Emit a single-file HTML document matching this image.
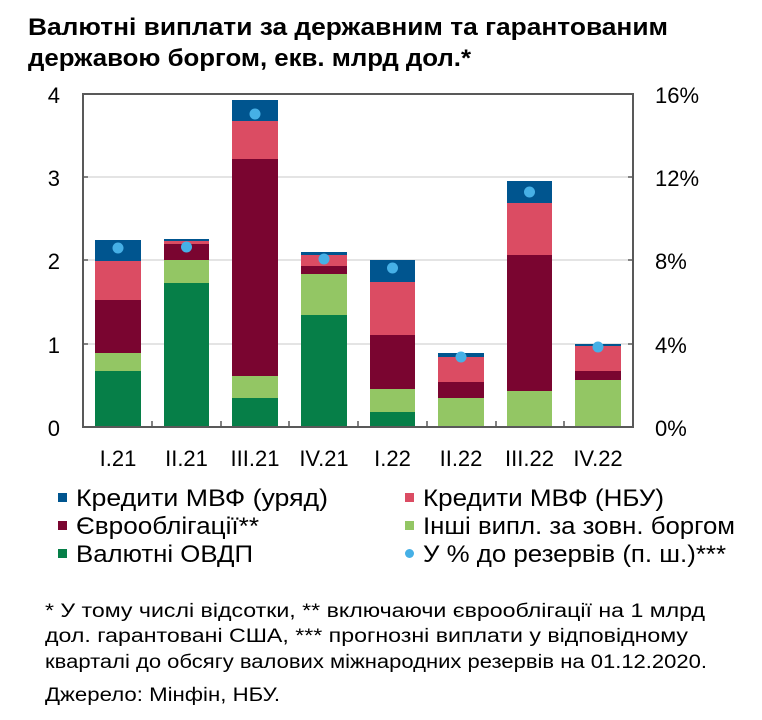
<!DOCTYPE html>
<html><head><meta charset="utf-8"><style>
html,body{margin:0;padding:0;background:#fff}
svg{display:block}
text{font-family:"Liberation Sans",sans-serif;fill:#000}
</style></head><body>
<svg width="762" height="720" viewBox="0 0 762 720">
<text x="28" y="35" font-size="24" font-weight="bold" textLength="640" lengthAdjust="spacingAndGlyphs">Валютні виплати за державним та гарантованим</text>
<text x="28" y="66" font-size="24" font-weight="bold" textLength="443" lengthAdjust="spacingAndGlyphs">державою боргом, екв. млрд дол.*</text>
<g stroke="#c8c8c8" stroke-width="1">
<line x1="83" y1="177" x2="633" y2="177"/><line x1="83" y1="260" x2="633" y2="260"/><line x1="83" y1="344" x2="633" y2="344"/>
</g>
<g>
<rect x="95" y="240" width="46" height="21" fill="#00558f"/><rect x="95" y="261" width="46" height="39" fill="#db4c63"/><rect x="95" y="300" width="46" height="53" fill="#7a0530"/><rect x="95" y="353" width="46" height="18" fill="#93c664"/><rect x="95" y="371" width="46" height="56" fill="#067f48"/>
<rect x="164" y="239" width="45" height="2" fill="#00558f"/><rect x="164" y="241" width="45" height="3" fill="#db4c63"/><rect x="164" y="244" width="45" height="16" fill="#7a0530"/><rect x="164" y="260" width="45" height="23" fill="#93c664"/><rect x="164" y="283" width="45" height="144" fill="#067f48"/>
<rect x="232" y="100" width="46" height="21" fill="#00558f"/><rect x="232" y="121" width="46" height="38" fill="#db4c63"/><rect x="232" y="159" width="46" height="217" fill="#7a0530"/><rect x="232" y="376" width="46" height="22" fill="#93c664"/><rect x="232" y="398" width="46" height="29" fill="#067f48"/>
<rect x="301" y="252" width="46" height="3" fill="#00558f"/><rect x="301" y="255" width="46" height="11" fill="#db4c63"/><rect x="301" y="266" width="46" height="8" fill="#7a0530"/><rect x="301" y="274" width="46" height="41" fill="#93c664"/><rect x="301" y="315" width="46" height="112" fill="#067f48"/>
<rect x="370" y="260" width="45" height="22" fill="#00558f"/><rect x="370" y="282" width="45" height="53" fill="#db4c63"/><rect x="370" y="335" width="45" height="54" fill="#7a0530"/><rect x="370" y="389" width="45" height="23" fill="#93c664"/><rect x="370" y="412" width="45" height="15" fill="#067f48"/>
<rect x="438" y="353" width="46" height="4" fill="#00558f"/><rect x="438" y="357" width="46" height="25" fill="#db4c63"/><rect x="438" y="382" width="46" height="16" fill="#7a0530"/><rect x="438" y="398" width="46" height="29" fill="#93c664"/>
<rect x="507" y="181" width="45" height="22" fill="#00558f"/><rect x="507" y="203" width="45" height="52" fill="#db4c63"/><rect x="507" y="255" width="45" height="136" fill="#7a0530"/><rect x="507" y="391" width="45" height="36" fill="#93c664"/>
<rect x="575" y="344" width="46" height="2" fill="#00558f"/><rect x="575" y="346" width="46" height="25" fill="#db4c63"/><rect x="575" y="371" width="46" height="9" fill="#7a0530"/><rect x="575" y="380" width="46" height="47" fill="#93c664"/>
</g>
<g fill="#46b0e6">
<circle cx="118" cy="248" r="5.5"/><circle cx="186.5" cy="247" r="5.5"/><circle cx="255" cy="114" r="5.5"/><circle cx="324" cy="259" r="5.5"/>
<circle cx="392.5" cy="268" r="5.5"/><circle cx="461" cy="357" r="5.5"/><circle cx="529.5" cy="192" r="5.5"/><circle cx="598" cy="347" r="5.5"/>
</g>
<rect x="83" y="94" width="550" height="333" stroke="#595959" stroke-width="2" fill="none"/>
<g stroke="#595959" stroke-width="1.5">
<line x1="83" y1="177" x2="88" y2="177"/><line x1="83" y1="260" x2="88" y2="260"/><line x1="83" y1="344" x2="88" y2="344"/>
<line x1="633" y1="177" x2="628" y2="177"/><line x1="633" y1="260" x2="628" y2="260"/><line x1="633" y1="344" x2="628" y2="344"/>
<line x1="152" y1="427" x2="152" y2="421"/><line x1="221" y1="427" x2="221" y2="421"/><line x1="289" y1="427" x2="289" y2="421"/><line x1="358" y1="427" x2="358" y2="421"/><line x1="427" y1="427" x2="427" y2="421"/><line x1="496" y1="427" x2="496" y2="421"/><line x1="564" y1="427" x2="564" y2="421"/>
</g>
<g font-size="22" text-anchor="end">
<text x="60" y="103">4</text><text x="60" y="186">3</text><text x="60" y="269">2</text><text x="60" y="353">1</text><text x="60" y="436">0</text>
</g>
<g font-size="22">
<text x="655" y="103">16%</text><text x="655" y="186">12%</text><text x="655" y="269">8%</text><text x="655" y="353">4%</text><text x="655" y="436">0%</text>
</g>
<g font-size="22" text-anchor="middle">
<text x="118" y="466">I.21</text><text x="186.5" y="466">II.21</text><text x="255" y="466">III.21</text><text x="324" y="466">IV.21</text>
<text x="392.5" y="466">I.22</text><text x="461" y="466">II.22</text><text x="529.5" y="466">III.22</text><text x="598" y="466">IV.22</text>
</g>
<rect x="58" y="493" width="9" height="9" fill="#00558f"/>
<rect x="58" y="521" width="9" height="9" fill="#7a0530"/>
<rect x="58" y="549" width="9" height="9" fill="#067f48"/>
<rect x="405" y="493" width="9" height="9" fill="#db4c63"/>
<rect x="405" y="521" width="9" height="9" fill="#93c664"/>
<circle cx="409.5" cy="553.5" r="4.5" fill="#46b0e6"/>
<g font-size="24">
<text x="76" y="506" textLength="252" lengthAdjust="spacingAndGlyphs">Кредити МВФ (уряд)</text>
<text x="76" y="534" textLength="183" lengthAdjust="spacingAndGlyphs">Єврооблігації**</text>
<text x="76" y="562" textLength="177" lengthAdjust="spacingAndGlyphs">Валютні ОВДП</text>
<text x="423" y="506" textLength="241" lengthAdjust="spacingAndGlyphs">Кредити МВФ (НБУ)</text>
<text x="423" y="534" textLength="312" lengthAdjust="spacingAndGlyphs">Інші випл. за зовн. боргом</text>
<text x="423" y="562" textLength="303" lengthAdjust="spacingAndGlyphs">У % до резервів (п. ш.)***</text>
</g>
<g font-size="19">
<text x="45" y="617" textLength="660" lengthAdjust="spacingAndGlyphs">* У тому числі відсотки, ** включаючи єврооблігації на 1 млрд</text>
<text x="45" y="642" textLength="643" lengthAdjust="spacingAndGlyphs">дол. гарантовані США, *** прогнозні виплати у відповідному</text>
<text x="45" y="668" textLength="662" lengthAdjust="spacingAndGlyphs">кварталі до обсягу валових міжнародних резервів на 01.12.2020.</text>
<text x="45" y="701" textLength="235" lengthAdjust="spacingAndGlyphs">Джерело: Мінфін, НБУ.</text>
</g>
</svg>
</body></html>
